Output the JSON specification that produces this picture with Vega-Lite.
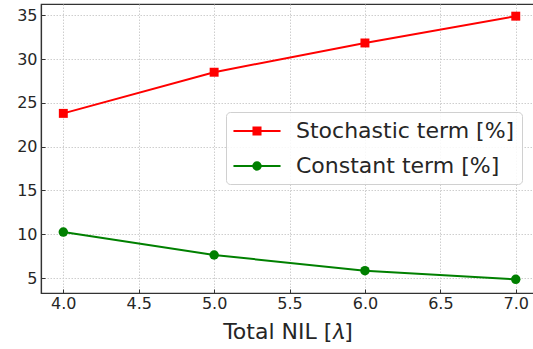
{
  "$schema": "https://vega.github.io/schema/vega-lite/v6.json",
  "width": 493,
  "height": 289,
  "autosize": {"type": "none"},
  "padding": {"left": 41, "top": 4, "right": 0, "bottom": 56},
  "background": "white",
  "config": {
    "font": "DejaVu Sans",
    "view": {"stroke": "#333333", "strokeWidth": 1.2},
    "axis": {
      "domainColor": "#333333",
      "domainWidth": 1.2,
      "tickColor": "#333333",
      "tickSize": -4,
      "tickWidth": 1,
      "labelFont": "DejaVu Sans",
      "labelFontSize": 16,
      "labelColor": "#262626",
      "titleFont": "DejaVu Sans",
      "titleFontSize": 22,
      "titleFontWeight": "normal",
      "titleColor": "#262626",
      "gridColor": "#c8c8c8",
      "gridDash": [1.5, 1.5],
      "gridWidth": 0.9
    }
  },
  "data": {
    "values": [
      {"nil": 4.0, "value": 23.8, "series": "Stochastic term [%]"},
      {"nil": 5.0, "value": 28.5, "series": "Stochastic term [%]"},
      {"nil": 6.0, "value": 31.84, "series": "Stochastic term [%]"},
      {"nil": 7.0, "value": 34.9, "series": "Stochastic term [%]"},
      {"nil": 4.0, "value": 10.25, "series": "Constant term [%]"},
      {"nil": 5.0, "value": 7.63, "series": "Constant term [%]"},
      {"nil": 6.0, "value": 5.84, "series": "Constant term [%]"},
      {"nil": 7.0, "value": 4.85, "series": "Constant term [%]"}
    ]
  },
  "encoding": {
    "x": {
      "field": "nil",
      "type": "quantitative",
      "scale": {"domain": [3.852, 7.121], "nice": false, "zero": false},
      "axis": {
        "title": "Total NIL [𝜆]",
        "values": [4.0, 4.5, 5.0, 5.5, 6.0, 6.5, 7.0],
        "format": ".1f",
        "labelPadding": 6,
        "titlePadding": 10,
        "labelFlush": false
      }
    },
    "y": {
      "field": "value",
      "type": "quantitative",
      "scale": {"domain": [3.29, 36.29], "nice": false, "zero": false},
      "axis": {
        "title": null,
        "values": [5, 10, 15, 20, 25, 30, 35],
        "labelPadding": 8,
        "labelFlush": false
      }
    },
    "color": {
      "field": "series",
      "type": "nominal",
      "sort": ["Stochastic term [%]", "Constant term [%]"],
      "scale": {"domain": ["Stochastic term [%]", "Constant term [%]"], "range": ["#ff0000", "#008000"]},
      "legend": {
        "title": null,
        "orient": "none",
        "legendX": 185,
        "legendY": 108,
        "padding": 7,
        "fillColor": "rgba(255,255,255,0.85)",
        "strokeColor": "#d0d0d0",
        "cornerRadius": 4,
        "labelFont": "DejaVu Sans",
        "labelFontSize": 22,
        "labelColor": "#262626",
        "labelLimit": 400,
        "labelOffset": 27,
        "rowPadding": 12,
        "symbolSize": 484,
        "symbolOffset": 12,
        "symbolStrokeWidth": 2,
        "symbolType": "M-2.14,0H2.14M-0.32,-0.32H0.32V0.32H-0.32Z",
        "encode": {
          "symbols": {
            "update": {
              "shape": {"signal": "datum.value == 'Stochastic term [%]' ? 'M-2.14,0H2.14M-0.32,-0.32H0.32V0.32H-0.32Z' : 'M-2.14,0H2.14M0.34,0A0.34,0.34 0 1,1 -0.34,0A0.34,0.34 0 1,1 0.34,0Z'"},
              "stroke": {"scale": "color", "field": "value"},
              "fill": {"scale": "color", "field": "value"},
              "strokeWidth": {"value": 2},
              "opacity": {"value": 1}
            }
          }
        }
      }
    }
  },
  "layer": [
    {
      "mark": {"type": "line", "strokeWidth": 2}
    },
    {
      "transform": [{"filter": "datum.series == 'Stochastic term [%]'"}],
      "mark": {"type": "point", "filled": true, "opacity": 1, "shape": "square", "size": 80}
    },
    {
      "transform": [{"filter": "datum.series == 'Constant term [%]'"}],
      "mark": {"type": "point", "filled": true, "opacity": 1, "shape": "circle", "size": 90}
    }
  ]
}
